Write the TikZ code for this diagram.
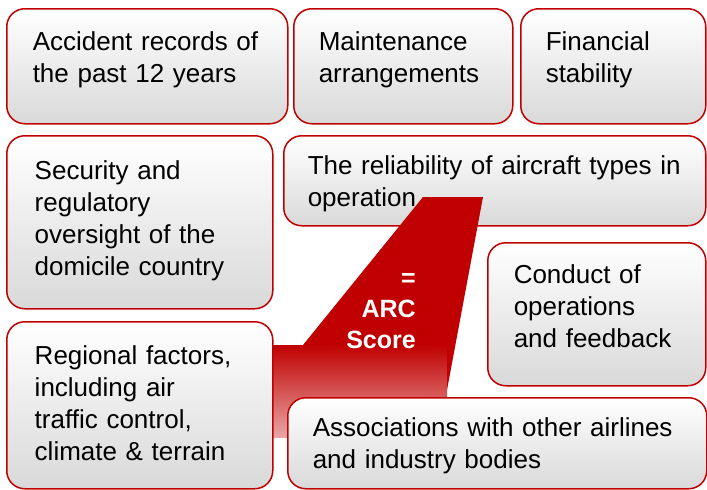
\documentclass[tikz,border=0pt]{standalone}
\usepackage{fontspec}
\setmainfont{Liberation Sans}
\definecolor{arcred}{HTML}{C00000}
\tikzset{inset/.style={execute at begin node={\leftskip=#1}}}

\begin{document}
\begin{tikzpicture}[x=1pt,y=-1pt]
\useasboundingbox (0,0) rectangle (707,490);
\begin{scope}[every node/.style={anchor=north west,draw=arcred,line width=1.5pt,
              rounded corners=18pt,top color=white,bottom color=black!15,
              inner sep=0pt,align=left,font=\fontsize{26}{32}\selectfont,
              inset=26pt}]
    \node[text width=281pt,text height=42pt,text depth=73pt] (F1) at (6,8)
        {Accident records of\\the past 12 years};
    \node[text width=219pt,text height=42pt,text depth=73pt,inset=25pt] (F2) at (293,8)
        {Maintenance\\arrangements};
    \node[text width=185pt,text height=42pt,text depth=73pt,inset=25pt] (F3) at (520,8)
        {Financial\\stability};
    \node[text width=266pt,text height=44pt,text depth=129pt,inset=28pt] (F4) at (6,135)
        {Security and\\regulatory\\oversight of the\\domicile country};
    \node[text width=422pt,text height=39pt,text depth=51pt,inset=24pt] (F5) at (283,135)
        {The reliability of aircraft types in\\operation};
\end{scope}
\shade[top color=arcred,bottom color=arcred!35] (240,345) rectangle (447,437);
\fill[arcred] (423,197) -- (483,197) -- (447,390) -- (447,345) -- (303,345) -- cycle;
\node[anchor=base east,align=right,text width=80pt,inner sep=0pt,text=white,
      font=\bfseries\fontsize{25}{31}\selectfont] (S) at (416,286) {=\\ARC\\Score};
\begin{scope}[every node/.style={anchor=north west,draw=arcred,line width=1.5pt,
              rounded corners=18pt,top color=white,bottom color=black!15,
              inner sep=0pt,align=left,font=\fontsize{26}{32}\selectfont,
              inset=26pt}]
    \node[text width=218pt,text height=41pt,text depth=102pt] (F6) at (487,242)
        {Conduct of\\operations\\and feedback};
    \node[text width=266pt,text height=43pt,text depth=124pt,inset=28pt] (F7) at (6,321)
        {Regional factors,\\including air\\traffic control,\\climate \& terrain};
    \node[text width=419pt,text height=39pt,text depth=52pt,inset=25pt] (F8) at (287,397)
        {Associations with other airlines\\and industry bodies};
\end{scope}
\end{tikzpicture}
\end{document}
